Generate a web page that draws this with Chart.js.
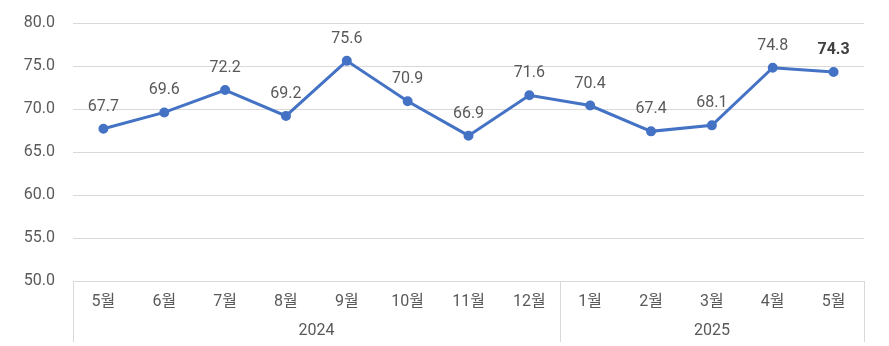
<!DOCTYPE html>
<html>
<head>
<meta charset="utf-8">
<script src="https://cdn.jsdelivr.net/npm/chart.js@4"></script>
<style>
    html, body { margin: 0; padding: 0; background: #fff; }
    #ChartWrapper { width: 889px; height: 346px; }
</style>
</head>
<body>
<div id="ChartWrapper"><canvas id="Chart"></canvas></div>
<script>
// месяцы, годы и значения
var months = ['5월', '6월', '7월', '8월', '9월', '10월', '11월', '12월', '1월', '2월', '3월', '4월', '5월'];
var years = ['2024', '2025'];
var yearSpans = [8, 5]; // сколько месяцев в каждом году
var values = [67.7, 69.6, 72.2, 69.2, 75.6, 70.9, 66.9, 71.6, 70.4, 67.4, 68.1, 74.8, 74.3];
var yTicks = [50, 55, 60, 65, 70, 75, 80];

var fontFamily = "Roboto, 'Noto Sans CJK KR', sans-serif";
var gridColor = '#d9d9d9';
var textColor = '#595959';

/**
 * подписи значений над точками, последняя жирным*/
var valueLabels = {
    id: 'valueLabels',
    afterDatasetsDraw: function (chart) {
        var ctx = chart.ctx;
        var meta = chart.getDatasetMeta(0);
        ctx.save();
        ctx.textAlign = 'center';
        ctx.textBaseline = 'middle';
        for (var i = 0; i < meta.data.length; i++) {
            var p = meta.data[i];
            var last = i == meta.data.length - 1;
            ctx.font = (last ? 'bold ' : '') + '16px ' + fontFamily;
            ctx.fillStyle = last ? '#404040' : textColor;
            ctx.fillText(values[i].toFixed(1), p.x, p.y - 22);
        }
        ctx.restore();
    }
};

/**
 * рамка под осью X с разбивкой по годам*/
var yearBoxes = {
    id: 'yearBoxes',
    afterDraw: function (chart) {
        var ctx = chart.ctx;
        var x = chart.scales.x;
        var area = chart.chartArea;
        var bottom = chart.height - 4;
        var half = (x.getPixelForValue(1) - x.getPixelForValue(0)) / 2;
        ctx.save();
        ctx.strokeStyle = gridColor;
        ctx.lineWidth = 1;
        ctx.font = '16px ' + fontFamily;
        ctx.fillStyle = textColor;
        ctx.textAlign = 'center';
        ctx.textBaseline = 'middle';
        var start = 0;
        var edges = [Math.round(area.left) + 0.5];
        for (var i = 0; i < years.length; i++) {
            var end = start + yearSpans[i] - 1;
            var left = x.getPixelForValue(start) - half;
            var right = x.getPixelForValue(end) + half;
            edges.push(Math.round(right) + 0.5);
            ctx.fillText(years[i], (left + right) / 2, area.bottom + 50);
            start = end + 1;
        }
        for (var j = 0; j < edges.length; j++) {
            ctx.beginPath();
            ctx.moveTo(edges[j], area.bottom);
            ctx.lineTo(edges[j], bottom);
            ctx.stroke();
        }
        ctx.restore();
    }
};

var config = {
    type: 'line',
    data: {
        labels: months,
        datasets: [{
            data: values,
            borderColor: '#4472c4',
            backgroundColor: '#4472c4',
            borderWidth: 3,
            pointRadius: 3.5,
            pointHoverRadius: 3.5,
            tension: 0
        }]
    },
    options: {
        responsive: true,
        maintainAspectRatio: false,
        animation: false,
        layout: { padding: { top: 23, right: 25, left: 0, bottom: 0 } },
        plugins: {
            legend: { display: false },
            tooltip: { enabled: false }
        },
        scales: {
            x: {
                offset: true,
                grid: { display: false, drawTicks: false },
                border: { display: false },
                ticks: {
                    color: textColor,
                    font: { family: fontFamily, size: 16 },
                    padding: 11,
                    maxRotation: 0,
                    autoSkip: false
                },
                afterFit: function (scale) {
                    scale.height = 65;
                    scale.paddingLeft = 0;
                    scale.paddingRight = 0;
                }
            },
            y: {
                min: 50,
                max: 80,
                afterBuildTicks: function (scale) {
                    scale.ticks = yTicks.map(function (v) { return { value: v }; });
                },
                grid: { color: gridColor, drawTicks: false },
                border: { display: false },
                ticks: {
                    color: textColor,
                    font: { family: fontFamily, size: 16 },
                    padding: 18,
                    callback: function (v) { return Number(v).toFixed(1); }
                },
                afterFit: function (scale) {
                    scale.width = 73;
                    scale.paddingTop = 0;
                    scale.paddingBottom = 0;
                }
            }
        }
    },
    plugins: [valueLabels, yearBoxes]
};

var myChart = new Chart(document.getElementById('Chart'), config);
</script>
</body>
</html>
